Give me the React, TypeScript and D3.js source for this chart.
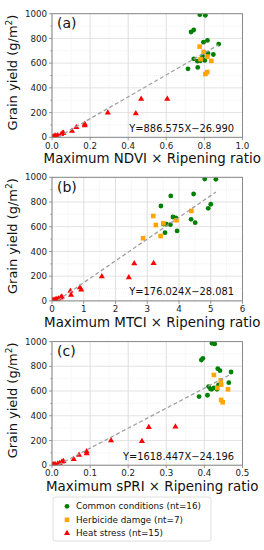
import React, { useEffect, useRef } from 'react';
import * as d3 from 'd3';

// (a) NDVI x ripening ratio
const commonNdviX = [0.776, 0.805, 0.73, 0.744, 0.795, 0.816, 0.875, 0.744, 0.819, 0.847, 0.764, 0.779, 0.802, 0.714, 0.765, 0.79];
const commonNdviY = [992, 987, 852, 868, 770, 784, 754, 635, 679, 670, 616, 619, 622, 554, 565, 657];
const herbNdviX = [0.775, 0.796, 0.816, 0.78, 0.836, 0.815, 0.805];
const herbNdviY = [734, 691, 653, 632, 618, 528, 512];
const heatNdviX = [0.005, 0.012, 0.02, 0.03, 0.048, 0.055, 0.06, 0.105, 0.128, 0.172, 0.172, 0.293, 0.44, 0.468, 0.605];
const heatNdviY = [5, 10, 12, 15, 24, 32, 35, 51, 81, 95, 108, 198, 192, 309, 309];

// (b) MTCI x ripening ratio
const commonMtciX = [4.81, 5.16, 3.74, 4.46, 3.43, 5.0, 4.92, 3.81, 3.9, 4.38, 4.51, 3.51, 3.73, 3.56, 3.94, 3.6];
const commonMtciY = [986, 984, 849, 865, 768, 782, 749, 679, 671, 660, 633, 622, 617, 552, 566, 620];
const herbMtciX = [3.19, 4.39, 3.27, 3.51, 3.92, 2.87, 3.42];
const herbMtciY = [687, 728, 614, 628, 652, 507, 525];
const heatMtciX = [0.02, 0.06, 0.1, 0.15, 0.2, 0.27, 0.31, 0.58, 0.6, 0.88, 0.92, 1.57, 2.42, 2.59, 3.2];
const heatMtciY = [5, 8, 12, 13, 18, 25, 33, 80, 48, 108, 90, 197, 190, 302, 305];

// (c) sPRI x ripening ratio
const commonSpriX = [0.42, 0.427, 0.392, 0.396, 0.435, 0.441, 0.47, 0.464, 0.411, 0.416, 0.419, 0.437, 0.386, 0.408, 0.433, 0.425];
const commonSpriY = [986, 981, 851, 865, 781, 765, 754, 668, 636, 617, 614, 649, 555, 566, 614, 625];
const herbSpriX = [0.425, 0.443, 0.444, 0.434, 0.462, 0.444, 0.448];
const herbSpriY = [730, 687, 652, 625, 614, 528, 509];
const heatSpriX = [0.002, 0.004, 0.008, 0.015, 0.02, 0.026, 0.03, 0.057, 0.071, 0.091, 0.091, 0.155, 0.236, 0.254, 0.324];
const heatSpriY = [3, 5, 8, 12, 15, 27, 32, 48, 83, 94, 110, 199, 194, 307, 312];

const panelLetters = ['(a)', '(b)', '(c)'];
const xLabels = ['Maximum NDVI \u00d7 Ripening ratio', 'Maximum MTCI \u00d7 Ripening ratio', 'Maximum sPRI \u00d7 Ripening ratio'];
const xMax = [1.0, 6, 0.5];
const xMajor = [0.2, 1, 0.1];
const xMinor = [0.1, 0.5, 0.05];
const xFormat = ['.1f', 'd', '.1f'];
const fitSlope = [886.575, 176.024, 1618.447];
const fitIntercept = [-26.99, -28.081, -24.196];
const yTicks = [0, 200, 400, 600, 800, 1000];
const yMinorTicks = [100, 300, 500, 700, 900];
const legendLabels = ['Common conditions (nt=16)', 'Herbicide damge (nt=7)', 'Heat stress (nt=15)'];

const colors = ['#008000', '#ffa500', '#ff0000'];
const font = 'DejaVu Sans, sans-serif';

const W = 264, H = 550;
const left = 52, right = 242.5, plotH = 123.6;
const tops = [13.7, 177.3, 341.6];

const panelData = [
  [[commonNdviX, commonNdviY], [herbNdviX, herbNdviY], [heatNdviX, heatNdviY]],
  [[commonMtciX, commonMtciY], [herbMtciX, herbMtciY], [heatMtciX, heatMtciY]],
  [[commonSpriX, commonSpriY], [herbSpriX, herbSpriY], [heatSpriX, heatSpriY]],
];

function drawMarker(g: any, kind: number, x: number, y: number) {
  if (kind === 0) {
    g.append('circle').attr('cx', x).attr('cy', y).attr('r', 2.4).attr('fill', colors[0]);
  } else if (kind === 1) {
    g.append('rect').attr('x', x - 2.3).attr('y', y - 2.3).attr('width', 4.6).attr('height', 4.6).attr('fill', colors[1]);
  } else {
    const s = d3.symbol().type(d3.symbolTriangle).size(16);
    g.append('path').attr('d', s()).attr('transform', `translate(${x},${y})`).attr('fill', colors[2]);
  }
}

export default function App() {
  const ref = useRef<SVGSVGElement>(null);

  useEffect(() => {
    const svg = d3.select(ref.current);
    svg.selectAll('*').remove();

    panelData.forEach((series, p) => {
      const top = tops[p];
      const bottom = top + plotH;
      const x = d3.scaleLinear().domain([0, xMax[p]]).range([left, right]);
      const y = d3.scaleLinear().domain([0, 1000]).range([bottom, top]);
      const g = svg.append('g');

      const clipId = 'clip' + p;
      svg.append('clipPath').attr('id', clipId)
        .append('rect').attr('x', left).attr('y', top).attr('width', right - left).attr('height', plotH);

      const xMinorTicks = d3.range(0, xMax[p] + 1e-9, xMinor[p]);
      const xMajorTicks = d3.range(0, xMax[p] + 1e-9, xMajor[p]);

      // minor grid
      g.selectAll('.mgx').data(xMinorTicks).enter().append('line')
        .attr('x1', d => x(d)).attr('x2', d => x(d)).attr('y1', top).attr('y2', bottom)
        .attr('stroke', '#e6e6e6').attr('stroke-width', 0.6).attr('stroke-dasharray', '1,1');
      g.selectAll('.mgy').data(yMinorTicks).enter().append('line')
        .attr('x1', left).attr('x2', right).attr('y1', d => y(d)).attr('y2', d => y(d))
        .attr('stroke', '#e6e6e6').attr('stroke-width', 0.6).attr('stroke-dasharray', '1,1');
      // major grid
      g.selectAll('.gx').data(xMajorTicks).enter().append('line')
        .attr('x1', d => x(d)).attr('x2', d => x(d)).attr('y1', top).attr('y2', bottom)
        .attr('stroke', '#dcdcdc').attr('stroke-width', 0.8);
      g.selectAll('.gy').data(yTicks).enter().append('line')
        .attr('x1', left).attr('x2', right).attr('y1', d => y(d)).attr('y2', d => y(d))
        .attr('stroke', '#dcdcdc').attr('stroke-width', 0.8);

      // markers
      const mg = g.append('g').attr('clip-path', `url(#${clipId})`);
      series.forEach(([xs, ys], k) => {
        xs.forEach((v, i) => drawMarker(mg, k, x(v), y(ys[i])));
      });

      // regression line
      const allX = series.flatMap(s => s[0]);
      const x0 = d3.min(allX) as number, x1 = d3.max(allX) as number;
      const line = d3.line<number>().x(d => x(d)).y(d => y(fitSlope[p] * d + fitIntercept[p]));
      g.append('path').attr('d', line([x0, x1]))
        .attr('clip-path', `url(#${clipId})`)
        .attr('fill', 'none').attr('stroke', '#a0a0a0').attr('stroke-width', 1.3)
        .attr('stroke-dasharray', '4,2.5');

      // frame
      g.append('rect').attr('x', left).attr('y', top).attr('width', right - left).attr('height', plotH)
        .attr('fill', 'none').attr('stroke', '#808080').attr('stroke-width', 0.9);

      // ticks
      g.selectAll('.tx').data(xMajorTicks).enter().append('line')
        .attr('x1', d => x(d)).attr('x2', d => x(d)).attr('y1', bottom).attr('y2', bottom + 3)
        .attr('stroke', '#808080').attr('stroke-width', 0.8);
      g.selectAll('.ty').data(yTicks).enter().append('line')
        .attr('x1', left - 3).attr('x2', left).attr('y1', d => y(d)).attr('y2', d => y(d))
        .attr('stroke', '#808080').attr('stroke-width', 0.8);
      g.selectAll('.tym').data(yMinorTicks).enter().append('line')
        .attr('x1', left - 1.8).attr('x2', left).attr('y1', d => y(d)).attr('y2', d => y(d))
        .attr('stroke', '#808080').attr('stroke-width', 0.6);

      const fmt = d3.format(xFormat[p]);
      g.selectAll('.lx').data(xMajorTicks).enter().append('text')
        .attr('x', d => x(d)).attr('y', bottom + 11.2)
        .attr('text-anchor', 'middle').attr('font-family', font).attr('font-size', 8.7).attr('fill', '#222')
        .text(d => fmt(d));
      g.selectAll('.ly').data(yTicks).enter().append('text')
        .attr('x', left - 5).attr('y', d => y(d) + 3.1)
        .attr('text-anchor', 'end').attr('font-family', font).attr('font-size', 8.7).attr('fill', '#222')
        .text(d => String(d));

      // axis labels
      g.append('text').attr('x', (left + right) / 2 + 5).attr('y', bottom + 25.8)
        .attr('text-anchor', 'middle').attr('font-family', font).attr('font-size', 13.4).attr('fill', '#111')
        .text(xLabels[p]);
      const yl = g.append('text')
        .attr('transform', `translate(17,${top + plotH / 2 - 3}) rotate(-90)`)
        .attr('text-anchor', 'middle').attr('font-family', font).attr('font-size', 13).attr('fill', '#111');
      yl.append('tspan').text('Grain yield (g/m');
      yl.append('tspan').attr('font-size', 9).attr('dy', -5).text('2');
      yl.append('tspan').attr('dy', 5).text(')');

      // panel letter and equation
      g.append('text').attr('x', 57).attr('y', top + 14.5)
        .attr('font-family', font).attr('font-size', 14).attr('fill', '#111').text(panelLetters[p]);
      const eq = `Y=${fitSlope[p].toFixed(3)}X\u2212${Math.abs(fitIntercept[p]).toFixed(3)}`;
      g.append('text').attr('x', 234).attr('y', bottom - 5.5)
        .attr('text-anchor', 'end').attr('font-family', font).attr('font-size', 9.9).attr('fill', '#111').text(eq);
    });

    // legend
    const lg = svg.append('g');
    lg.append('rect').attr('x', 53).attr('y', 497).attr('width', 158).attr('height', 44).attr('rx', 2)
      .attr('fill', '#fff').attr('stroke', '#d8d8d8').attr('stroke-width', 0.8);
    legendLabels.forEach((lab, i) => {
      const cy = 506.3 + i * 13.5;
      drawMarker(lg, i, 67, cy);
      lg.append('text').attr('x', 76).attr('y', cy + 3.1)
        .attr('font-family', font).attr('font-size', 8.8).attr('fill', '#111').text(lab);
    });
  }, []);

  return (
    <svg ref={ref} width={W} height={H} style={{ position: 'absolute', left: 0, top: 0, background: '#fff' }} />
  );
}
